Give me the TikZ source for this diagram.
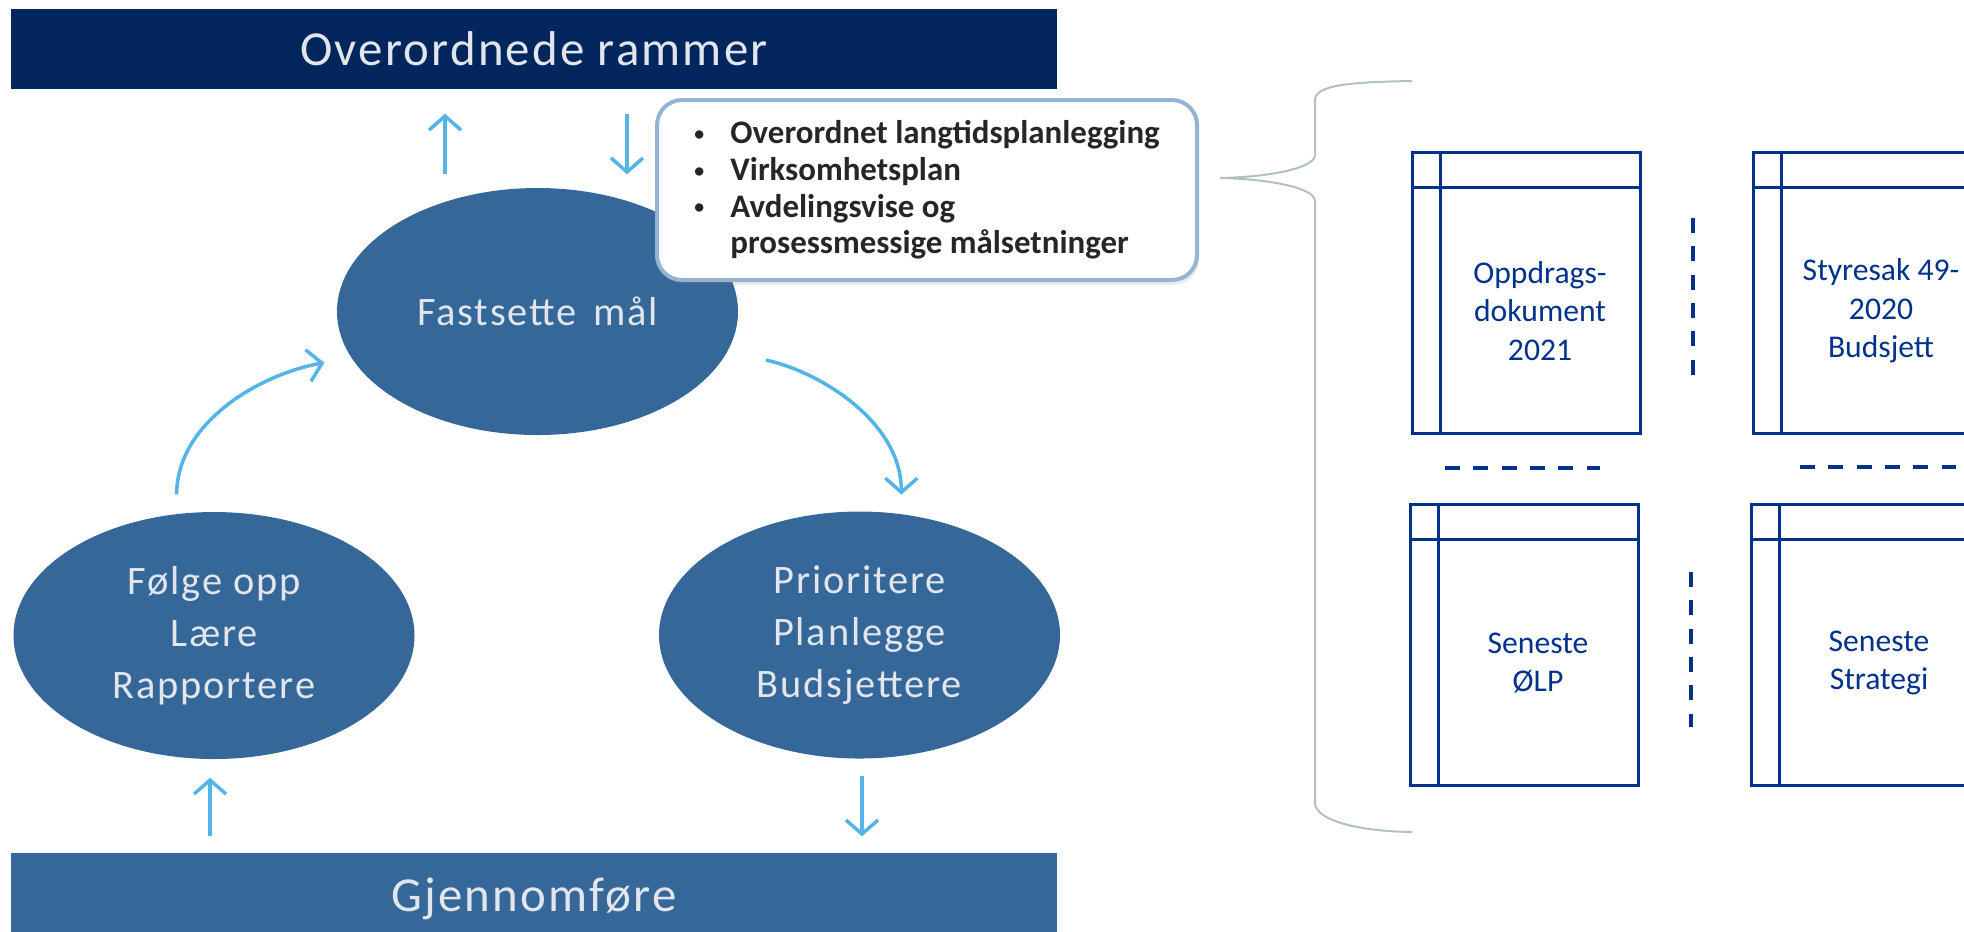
\documentclass[tikz,border=0pt]{standalone}
\usepackage{fontspec}
\setmainfont{Carlito}
\newfontfamily\lblfont[LetterSpace=4.5]{Carlito}
\usepackage{graphicx}
\usepackage{tikz}
\usetikzlibrary{shapes.geometric}
\usetikzlibrary{arrows.meta}
\usetikzlibrary{shadows}
\definecolor{navy}{RGB}{0,38,94}
\definecolor{midblue}{RGB}{53,103,153}
\definecolor{arrowblue}{RGB}{84,180,232}
\definecolor{docblue}{RGB}{0,50,140}
\definecolor{frameblue}{RGB}{150,180,210}
\definecolor{bracegray}{RGB}{178,192,192}
\definecolor{lbltext}{RGB}{226,230,236}
\definecolor{darktext}{RGB}{38,38,38}
\tikzset{barTop/.style={fill=navy, minimum width=10.46cm, minimum height=0.8cm, inner sep=0pt, text=lbltext, font=\lblfont\fontsize{13.9}{16}\selectfont}}
\tikzset{barBottom/.style={fill=midblue, minimum width=10.46cm, minimum height=0.92cm, inner sep=0pt, text=lbltext, font=\lblfont\fontsize{13.9}{16}\selectfont}}
\tikzset{stepEllipse/.style={ellipse, fill=midblue, minimum width=4.01cm, minimum height=2.47cm, inner sep=0pt, align=center, text=lbltext, font=\lblfont\fontsize{11.5}{14.8}\selectfont}}
\tikzset{planBox/.style={draw=frameblue, line width=0.04cm, fill=white, rounded corners=0.25cm, minimum width=5.4cm, minimum height=1.8cm, inner sep=0pt, align=left, text=darktext, font=\bfseries\fontsize{9.36}{10.44}\selectfont, drop shadow={opacity=0.15, shadow xshift=0.02cm, shadow yshift=-0.05cm}}}
\tikzset{docBox/.style={draw=docblue, line width=0.03cm, minimum width=2.28cm, minimum height=2.81cm, inner sep=0pt, path picture={\draw[docblue, line width=0.03cm] ([xshift=0.28cm]path picture bounding box.north west) -- ([xshift=0.28cm]path picture bounding box.south west); \draw[docblue, line width=0.03cm] ([yshift=-0.35cm]path picture bounding box.north west) -- ([yshift=-0.35cm]path picture bounding box.north east);}}}
\tikzset{docText/.style={text=docblue, align=center, inner sep=0pt, font=\fontsize{9}{10.95}\selectfont}}
\tikzset{flowArrow/.style={draw=arrowblue, line width=0.035cm, -{Straight Barb[length=0.14cm, width=0.32cm]}}}
\tikzset{sepLine/.style={draw=docblue, line width=0.045cm, dash pattern=on 0.15cm off 0.133cm}}
\tikzset{braceLine/.style={draw=bracegray, line width=0.02cm}}

\begin{document}
\begin{tikzpicture}

\useasboundingbox (0,0) rectangle (19.64,-9.31);
\clip (0,0) rectangle (19.64,-9.31);

\node[barTop] (rammer) at (5.34,-0.49) {Overordnede rammer};
\node[barBottom] (gjen) at (5.34,-8.99) {Gjennomføre};

\node[stepEllipse] (goal) at (5.375,-3.115) {Fastsette\hspace{0.4em}mål};
\node[stepEllipse] (folge) at (2.14,-6.355) {Følge opp\\Lære\\Rapportere};
\node[stepEllipse] (prio) at (8.595,-6.35) {Prioritere\\Planlegge\\Budsjettere};

\node[planBox] (plan) at (9.27,-1.90) {\makebox[1.1em][l]{\raisebox{0.1em}{\scalebox{0.6}{\textbullet}}}Overordnet langtidsplanlegging\\\makebox[1.1em][l]{\raisebox{0.1em}{\scalebox{0.6}{\textbullet}}}Virksomhetsplan\\\makebox[1.1em][l]{\raisebox{0.1em}{\scalebox{0.6}{\textbullet}}}Avdelingsvise og\\\makebox[1.1em][l]{}prosessmessige målsetninger};

\draw[flowArrow, shorten <=0.13cm, shorten >=0.24cm] ([xshift=-0.925cm]goal.north) -- ([xshift=-0.925cm]goal.north |- rammer.south);
\draw[flowArrow, shorten <=0.24cm, shorten >=0.13cm] ([xshift=0.895cm]goal.north |- rammer.south) -- ([xshift=0.895cm]goal.north);
\draw[flowArrow, shorten <=0.19cm, shorten >=0.27cm] (folge.107) to[out=90, in=190] (goal.194);
\draw[flowArrow, shorten <=0.39cm, shorten >=0.19cm] (goal.348) to[out=-12, in=90] (prio.71);
\draw[flowArrow, shorten <=0.17cm, shorten >=0.16cm] ([xshift=0.025cm]prio.south) -- ([xshift=0.025cm]prio.south |- gjen.north);
\draw[flowArrow, shorten <=0.16cm, shorten >=0.18cm] ([xshift=-0.04cm]folge.south |- gjen.north) -- ([xshift=-0.04cm]folge.south);

\draw[braceLine] (14.12,-0.81) .. controls (13.5,-0.82) and (13.15,-0.85) .. (13.15,-1.00) -- (13.15,-1.55) .. controls (13.15,-1.68) and (12.7,-1.77) .. (12.20,-1.78) .. controls (12.7,-1.79) and (13.15,-1.88) .. (13.15,-2.01) -- (13.15,-8.03) .. controls (13.15,-8.18) and (13.5,-8.31) .. (14.12,-8.32);

\node[docBox] (oppdrag) at (15.26,-2.925) {};
\node[docBox] (styresak) at (18.67,-2.925) {};
\node[docBox] (olp) at (15.24,-6.445) {};
\node[docBox] (strategi) at (18.65,-6.445) {};

\node[docText] (oppdragTxt) at ([xshift=0.14cm, yshift=-0.185cm]oppdrag.center) {Oppdrags-\\dokument\\2021};
\node[docText] (styresakTxt) at ([xshift=0.14cm, yshift=-0.185cm]styresak.center) {Styresak 49-\\2020\\Budsjett};
\node[docText] (olpTxt) at ([xshift=0.14cm, yshift=-0.185cm]olp.center) {Seneste\\ØLP};
\node[docText] (strategiTxt) at ([xshift=0.14cm, yshift=-0.185cm]strategi.center) {Seneste\\Strategi};

\draw[sepLine] (16.93,-2.18) -- (16.93,-3.75);
\draw[sepLine] (16.91,-5.72) -- (16.91,-7.27);
\draw[sepLine] (14.45,-4.68) -- (16.00,-4.68);
\draw[sepLine] (18.00,-4.67) -- (19.56,-4.67);

\end{tikzpicture}
\end{document}
